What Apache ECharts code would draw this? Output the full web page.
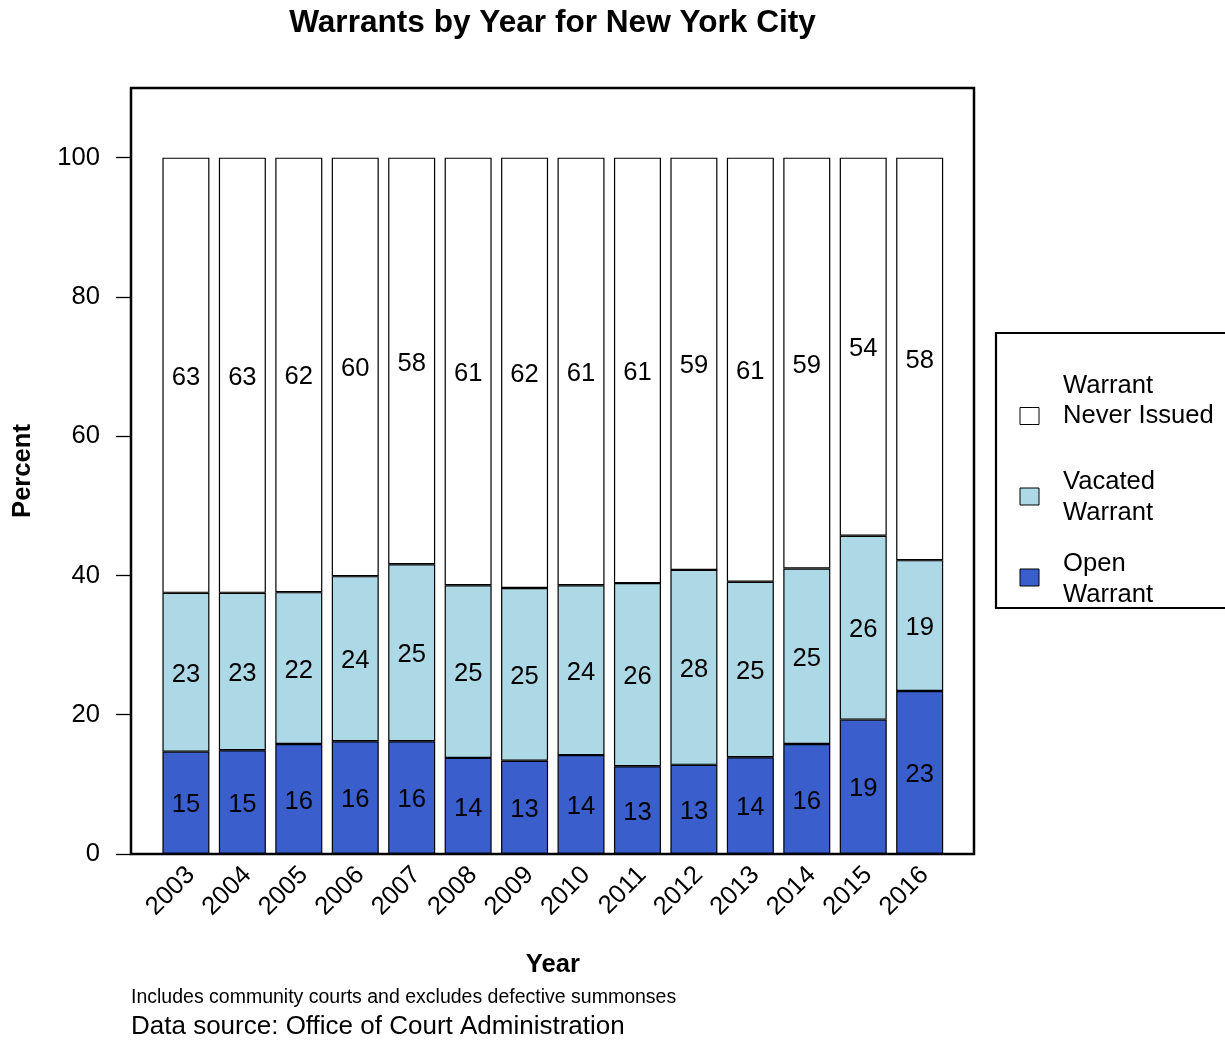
<!DOCTYPE html>
<html>
<head>
<meta charset="utf-8">
<title>Warrants by Year for New York City</title>
<script src="https://cdn.jsdelivr.net/npm/echarts@6/dist/echarts.min.js"></script>
<style>
  html, body { margin: 0; padding: 0; background: #fff; }
  #chart { width: 1225px; height: 1040px; }
</style>
</head>
<body>
<div id="chart"></div>
<script>
// data (percent of warrants per year)
var years = ['2003', '2004', '2005', '2006', '2007', '2008', '2009', '2010', '2011', '2012', '2013', '2014', '2015', '2016'];
var openWarrant = [14.7, 14.9, 15.8, 16.2, 16.2, 13.8, 13.4, 14.2, 12.6, 12.8, 13.9, 15.8, 19.3, 23.4];
var vacatedWarrant = [22.8, 22.6, 21.8, 23.7, 25.4, 24.8, 24.8, 24.4, 26.3, 28.0, 25.2, 25.2, 26.4, 18.8];
var neverIssued = [62.5, 62.5, 62.4, 60.1, 58.4, 61.4, 61.8, 61.4, 61.1, 59.2, 60.9, 59.0, 54.3, 57.8];
var yTicks = [0, 20, 40, 60, 80, 100];

var seriesNames = ['Open Warrant', 'Vacated Warrant', 'Warrant Never Issued'];
var colors = ['#3A5FCD', '#ADD8E6', '#FFFFFF'];

var FONT = 'Liberation Sans';
var BASE = 25.6;

var myChart = echarts.init(document.getElementById('chart'));

function segment(name, values, color) {
  return {
    name: name,
    type: 'bar',
    stack: 'total',
    barWidth: 47,
    data: values,
    itemStyle: { color: color, borderColor: '#000', borderWidth: 1.2 },
    label: {
      show: true,
      position: 'inside',
      offset: [0, 2.5],
      color: '#000',
      fontFamily: FONT,
      fontSize: BASE,
      formatter: function (p) { return Math.round(p.value); }
    },
    emphasis: { disabled: true }
  };
}

// legend drawn by hand (R style: box cut off at the right edge)
var legendGraphics = [
  { type: 'rect', shape: { x: 996, y: 333, width: 260, height: 275 },
    style: { fill: '#fff', stroke: '#000', lineWidth: 2.2 } }
];
var legendRows = [
  { lines: ['Warrant', 'Never Issued'], ys: [386, 416], box: 416, color: colors[2] },
  { lines: ['Vacated', 'Warrant'], ys: [482, 513], box: 496.5, color: colors[1] },
  { lines: ['Open', 'Warrant'], ys: [564, 595], box: 577.5, color: colors[0] }
];
legendRows.forEach(function (r) {
  legendGraphics.push({ type: 'rect', shape: { x: 1020, y: r.box - 8.5, width: 19, height: 17 },
    style: { fill: r.color, stroke: '#000', lineWidth: 1 } });
  r.lines.forEach(function (t, i) {
    legendGraphics.push({ type: 'text', x: 1063, y: r.ys[i],
      style: { text: t, fill: '#000', font: BASE + 'px "' + FONT + '"', textVerticalAlign: 'middle' } });
  });
});

var option = {
  animation: false,
  backgroundColor: '#fff',
  grid: { left: 157.7, right: 277.1, top: 88, bottom: 186, outerBoundsMode: 'none', containLabel: false },
  xAxis: {
    type: 'category',
    data: years,
    name: 'Year',
    nameLocation: 'middle',
    nameGap: 98,
    nameMoveOverlap: false,
    nameTextStyle: { color: '#000', fontFamily: FONT, fontSize: BASE, fontWeight: 'bold' },
    axisLine: { show: false },
    axisTick: { show: false },
    axisLabel: { interval: 0, rotate: 45, margin: 22, padding: [0, -7, 0, 0],
                 color: '#000', fontFamily: FONT, fontSize: BASE }
  },
  yAxis: {
    type: 'value',
    min: 0,
    max: 110,
    offset: 26.7,
    name: 'Percent',
    nameLocation: 'middle',
    nameGap: 95,
    nameMoveOverlap: false,
    nameTextStyle: { color: '#000', fontFamily: FONT, fontSize: BASE, fontWeight: 'bold' },
    splitLine: { show: false },
    axisLine: { show: false },
    axisTick: { show: true, length: 15, customValues: yTicks, lineStyle: { color: '#000', width: 1.3 } },
    axisLabel: { customValues: yTicks, margin: 31, color: '#000', fontFamily: FONT, fontSize: BASE }
  },
  series: [
    segment(seriesNames[0], openWarrant, colors[0]),
    segment(seriesNames[1], vacatedWarrant, colors[1]),
    segment(seriesNames[2], neverIssued, colors[2])
  ],
  graphic: [
    // plot box
    { type: 'rect', shape: { x: 131, y: 88, width: 843, height: 766 },
      style: { fill: 'none', stroke: '#000', lineWidth: 2.5 }, z: 10 },
    { type: 'text', x: 552.5, y: 23,
      style: { text: 'Warrants by Year for New York City', fill: '#000', font: 'bold 31.6px "' + FONT + '"',
               textAlign: 'center', textVerticalAlign: 'middle' } },
    { type: 'text', x: 131, y: 998,
      style: { text: 'Includes community courts and excludes defective summonses', fill: '#000',
               font: '19.5px "' + FONT + '"', textVerticalAlign: 'middle' } },
    { type: 'text', x: 131, y: 1027,
      style: { text: 'Data source: Office of Court Administration', fill: '#000',
               font: '26px "' + FONT + '"', textVerticalAlign: 'middle' } }
  ].concat(legendGraphics)
};

option && myChart.setOption(option);
</script>
</body>
</html>
